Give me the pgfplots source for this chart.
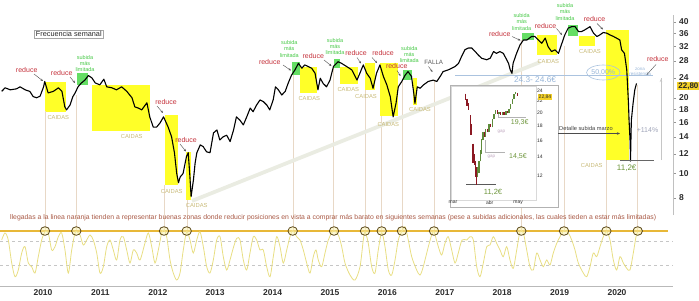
\documentclass[border=0pt]{standalone}
\usepackage{pgfplots}
\pgfplotsset{compat=1.18}
\usepackage{graphicx}
\usepackage{fontspec}
\setmainfont{Liberation Sans}
\usetikzlibrary{arrows.meta,shapes.geometric}
\definecolor{redlab}{RGB}{196,48,58}
\definecolor{greenlab}{RGB}{70,200,70}
\definecolor{caid}{RGB}{200,186,120}
\definecolor{ybox}{RGB}{255,255,40}
\definecolor{gbox}{RGB}{100,222,100}
\definecolor{vline}{RGB}{232,216,198}
\definecolor{osc}{RGB}{232,222,130}
\definecolor{orng}{RGB}{232,184,56}
\definecolor{circ}{RGB}{90,72,25}
\definecolor{circfill}{RGB}{250,240,170}
\definecolor{txtbrown}{RGB}{168,88,68}
\definecolor{lblue}{RGB}{150,180,215}
\definecolor{band}{RGB}{234,236,226}
\definecolor{olivegreen}{RGB}{110,150,60}
\definecolor{candred}{RGB}{140,25,35}
\definecolor{candgreen}{RGB}{95,140,60}
\definecolor{labyellow}{RGB}{245,210,40}
\definecolor{axgray}{RGB}{150,150,150}
\definecolor{ticktxt}{RGB}{45,45,45}
\definecolor{pctgray}{RGB}{160,165,185}
\newcommand{\bx}[5]{\addplot[fill=#5,draw=none,forget plot] coordinates {(#1,#3)(#2,#3)(#2,#4)(#1,#4)};}
\newcommand{\vl}[2]{\addplot[vline,line width=0.7pt,forget plot] coordinates {(#1,#2)(#1,5.92)};}
\newcommand{\cand}[4]{\addplot[#4,line width=1.5pt,forget plot] coordinates {(#1,#2)(#1,#3)};}
\tikzset{
 rd/.style={text=redlab,font=\fontsize{7}{7}\selectfont,inner sep=0pt},
 sb/.style={text=greenlab,font=\fontsize{5.5}{6.2}\selectfont,align=center,inner sep=0pt},
 cd/.style={text=caid,font=\fontsize{5.8}{6}\selectfont,inner sep=0pt},
 ar/.style={draw=black!70,line width=0.4pt,-{Stealth[length=2.5pt,width=2pt]}}
}
\begin{document}
\begin{tikzpicture}
\path[use as bounding box] (0pt,0pt) rectangle (699pt,-300pt);
% ---------------- main price panel
\begin{axis}[
  at={(0pt,-215pt)}, anchor=south west, scale only axis,
  width=673pt, height=200pt,
  xmin=2009.2509, xmax=2020.9756,
  ymode=log, ymin=6.85, ymax=42.6,
  axis x line=none,
  axis y line*=right,
  y axis line style={draw=axgray!60, line width=0.4pt},
  ytick={8,10,12,14,16,18,20,24,28,32,36,40},
  yticklabels={8,10,12,14,16,18,20,24,28,32,36,40},
  tick align=outside, major tick length=2.5pt,
  tick style={draw=axgray},
  yticklabel style={font=\fontsize{8.5}{9}\selectfont\bfseries, text=ticktxt},
  clip=false,
]
\bx{2010.035}{2010.395}{23.0}{17.6}{ybox}
\bx{2010.598}{2010.789}{25.0}{22.5}{gbox}
\bx{2010.848}{2011.864}{22.5}{14.8}{ybox}
\bx{2012.125}{2012.352}{17.1}{9.0}{ybox}
\bx{2012.491}{2012.578}{12.2}{7.86}{ybox}
\bx{2014.333}{2014.477}{27.8}{24.6}{gbox}
\bx{2014.477}{2014.782}{26.6}{20.9}{ybox}
\bx{2015.070}{2015.174}{28.5}{26.2}{gbox}
\bx{2015.174}{2015.488}{26.6}{22.7}{ybox}
\bx{2015.610}{2015.784}{27.4}{21.4}{ybox}
\bx{2015.871}{2016.185}{27.4}{16.9}{ybox}
\bx{2016.272}{2016.429}{25.8}{23.5}{gbox}
\bx{2016.441}{2016.521}{23.9}{18.7}{ybox}
\bx{2018.350}{2018.554}{36.1}{33.9}{gbox}
\bx{2018.611}{2018.949}{35.5}{29.6}{ybox}
\bx{2019.152}{2019.326}{38.9}{35.2}{gbox}
\bx{2019.343}{2019.617}{35.2}{32.1}{ybox}
\bx{2019.815}{2020.205}{37.2}{11.3}{ybox}
\vl{2010.044}{17.7}
\vl{2010.580}{20.5}
\vl{2012.113}{9.0}
\vl{2012.517}{7.86}
\vl{2014.361}{24.6}
\vl{2015.061}{26.2}
\vl{2015.610}{21.5}
\vl{2015.901}{16.9}
\vl{2016.254}{23.5}
\vl{2016.821}{23.5}
\vl{2018.333}{33.9}
\vl{2019.091}{32.1}
\vl{2019.814}{11.3}
\vl{2020.354}{22.5}
\addplot[band, line width=3.8pt, forget plot] coordinates {(2012.596,7.79)(2018.659,27.7)};
\addplot[lblue!80, line width=0.6pt, forget plot] coordinates {(2017.178,24.45)(2020.62,24.45)};
\addplot[black, line width=1.1pt, line join=round] table {
2009.28 21.2
2009.34 21.9
2009.43 21.5
2009.54 21.7
2009.60 22.1
2009.69 21.5
2009.77 21.2
2009.83 20.2
2009.89 20.0
2009.95 20.3
2010.01 22.1
2010.03 23.2
2010.09 20.9
2010.18 21.2
2010.27 21.9
2010.33 21.2
2010.38 18.4
2010.41 17.9
2010.47 18.7
2010.52 20.2
2010.56 20.9
2010.61 22.1
2010.67 22.9
2010.73 23.5
2010.79 24.5
2010.85 24.0
2010.91 22.9
2010.99 22.5
2011.06 23.7
2011.11 22.1
2011.20 21.9
2011.28 21.5
2011.37 22.1
2011.46 21.2
2011.55 20.0
2011.60 18.4
2011.66 18.2
2011.72 17.9
2011.81 19.1
2011.86 16.8
2011.92 15.3
2011.98 15.3
2012.04 15.9
2012.10 16.8
2012.18 15.3
2012.24 14.0
2012.29 12.1
2012.33 10.0
2012.36 9.2
2012.39 9.7
2012.44 10.0
2012.50 11.7
2012.53 12.1
2012.56 9.7
2012.58 8.1
2012.62 9.4
2012.65 11.0
2012.68 12.1
2012.74 13.0
2012.79 12.8
2012.85 12.2
2012.91 12.1
2012.97 14.5
2013.03 14.9
2013.08 13.6
2013.14 14.0
2013.20 14.2
2013.26 13.4
2013.32 14.9
2013.37 16.8
2013.43 16.3
2013.49 15.6
2013.55 16.8
2013.61 18.2
2013.66 17.6
2013.72 18.7
2013.78 19.6
2013.84 19.3
2013.90 18.7
2013.95 17.9
2014.01 19.6
2014.05 22.1
2014.10 21.5
2014.16 20.5
2014.22 21.2
2014.27 22.8
2014.33 24.6
2014.39 25.8
2014.45 27.4
2014.51 26.2
2014.56 27.0
2014.62 26.6
2014.68 26.2
2014.74 25.0
2014.79 21.5
2014.83 23.9
2014.88 22.8
2014.94 22.1
2015.00 23.5
2015.06 26.6
2015.14 27.8
2015.20 27.4
2015.29 26.6
2015.38 25.8
2015.47 23.5
2015.52 25.0
2015.58 27.0
2015.64 25.0
2015.70 23.9
2015.75 21.8
2015.81 25.0
2015.87 27.0
2015.93 24.3
2015.99 22.5
2016.05 20.2
2016.10 16.8
2016.15 19.0
2016.19 22.1
2016.25 23.2
2016.31 24.6
2016.36 25.4
2016.42 24.3
2016.46 20.8
2016.48 19.0
2016.52 22.1
2016.57 21.8
2016.63 22.5
2016.71 23.2
2016.80 23.5
2016.86 23.2
2016.92 24.3
2016.97 25.4
2017.06 25.8
2017.12 26.2
2017.18 26.6
2017.24 27.4
2017.29 29.1
2017.35 31.0
2017.41 31.5
2017.47 31.5
2017.53 30.5
2017.58 29.6
2017.64 28.7
2017.73 28.3
2017.79 28.7
2017.85 30.5
2017.90 30.0
2017.96 30.5
2018.02 30.0
2018.11 27.4
2018.14 25.8
2018.17 25.0
2018.19 27.4
2018.25 30.0
2018.31 32.4
2018.37 33.9
2018.43 33.9
2018.51 35.0
2018.57 35.0
2018.63 33.9
2018.69 32.9
2018.75 34.5
2018.80 31.9
2018.86 30.5
2018.92 31.0
2018.98 30.0
2019.04 32.9
2019.09 35.5
2019.15 37.8
2019.21 38.3
2019.27 38.3
2019.33 36.6
2019.38 36.6
2019.44 37.2
2019.53 38.3
2019.59 36.1
2019.65 35.0
2019.70 35.5
2019.76 36.3
2019.82 36.1
2019.88 35.5
2019.94 35.0
2019.99 34.5
2020.05 33.9
2020.08 31.0
2020.13 30.0
2020.17 25.8
2020.20 19.0
2020.21 16.3
2020.23 13.2
2020.235 11.2
2020.25 16.3
2020.28 19.0
2020.31 21.5
2020.34 22.8
};
\addplot[black!60, line width=1.4pt, forget plot] coordinates {(2020.052,11.25)(2020.650,11.25)};
\addplot[gray!45, line width=0.5pt, forget plot] coordinates {(2020.767,11.3)(2020.767,24.0)};
\end{axis}
% ---------------- oscillator panel
\begin{axis}[
  at={(0pt,-286pt)}, anchor=south west, scale only axis,
  width=673pt, height=64pt,
  xmin=2009.2509, xmax=2020.9756, ymin=0, ymax=116.36,
  axis y line=none, axis x line*=bottom,
  x axis line style={draw=gray!55, line width=0.6pt},
  xtick={2010,2011,2012,2013,2014,2015,2016,2017,2018,2019,2020},
  xticklabels={2010,2011,2012,2013,2014,2015,2016,2017,2018,2019,2020},
  major tick length=0pt,
  xticklabel style={font=\fontsize{8.5}{9}\selectfont\bfseries, text=ticktxt},
  clip=false,
]
\addplot[gray!45, dashed, line width=0.5pt, forget plot] coordinates {(2009.2509,82)(2020.96,82)};
\addplot[gray!45, dashed, line width=0.5pt, forget plot] coordinates {(2009.2509,38)(2020.96,38)};
\addplot[orng, line width=1.2pt, forget plot] coordinates {(2009.2509,100)(2020.889,100)};
\addplot[osc, line width=0.8pt, smooth, tension=0.5] table {
2009.280 83.6
2009.338 96.4
2009.395 83.6
2009.455 41.8
2009.512 16.9
2009.570 29.1
2009.629 60.0
2009.686 71.5
2009.744 41.8
2009.803 35.1
2009.861 23.6
2009.918 53.3
2009.977 83.6
2010.035 98.7
2010.092 96.4
2010.152 65.5
2010.209 71.5
2010.267 89.6
2010.326 96.4
2010.383 65.5
2010.441 23.6
2010.500 65.5
2010.557 96.4
2010.587 98.7
2010.645 92.7
2010.702 74.5
2010.761 83.6
2010.819 92.7
2010.876 83.6
2010.936 60.0
2010.993 23.6
2011.051 35.1
2011.110 71.5
2011.167 83.6
2011.225 65.5
2011.284 47.3
2011.341 83.6
2011.399 89.6
2011.458 65.5
2011.516 41.8
2011.573 65.5
2011.632 60.0
2011.690 47.3
2011.777 78.2
2011.835 96.4
2011.894 71.5
2011.951 41.8
2012.009 65.5
2012.068 96.4
2012.108 101.8
2012.155 89.6
2012.213 47.3
2012.270 23.6
2012.329 10.9
2012.387 23.6
2012.444 65.5
2012.503 98.7
2012.561 83.6
2012.618 60.0
2012.678 83.6
2012.735 98.7
2012.793 71.5
2012.852 35.1
2012.909 23.6
2012.967 47.3
2013.026 83.6
2013.084 89.6
2013.141 53.3
2013.200 29.1
2013.258 47.3
2013.315 69.1
2013.375 86.7
2013.432 83.6
2013.490 47.3
2013.549 29.1
2013.606 60.0
2013.664 89.6
2013.723 83.6
2013.780 65.5
2013.838 65.5
2013.897 35.1
2013.955 16.9
2014.012 53.3
2014.071 89.6
2014.129 71.5
2014.186 41.8
2014.246 65.5
2014.303 89.6
2014.350 100.5
2014.420 89.6
2014.477 83.6
2014.535 65.5
2014.594 41.8
2014.652 23.6
2014.709 53.3
2014.756 65.5
2014.796 47.3
2014.855 35.1
2014.913 60.0
2014.970 83.6
2015.030 96.4
2015.070 100.5
2015.145 92.7
2015.204 71.5
2015.261 41.8
2015.348 20.0
2015.436 10.9
2015.523 35.1
2015.580 83.6
2015.610 98.7
2015.667 77.6
2015.726 35.1
2015.784 23.6
2015.841 65.5
2015.901 96.9
2015.958 71.5
2016.016 29.1
2016.075 20.0
2016.133 47.3
2016.190 83.6
2016.249 98.7
2016.307 107.8
2016.364 83.6
2016.423 53.3
2016.510 29.1
2016.568 20.0
2016.625 35.1
2016.713 71.5
2016.772 92.7
2016.812 98.7
2016.887 71.5
2016.946 56.4
2017.003 77.6
2017.061 89.6
2017.120 65.5
2017.178 41.8
2017.235 60.0
2017.300 83.6
2017.382 83.6
2017.439 89.6
2017.497 83.6
2017.556 35.1
2017.613 16.9
2017.671 41.8
2017.730 71.5
2017.787 74.5
2017.845 89.6
2017.904 77.6
2017.962 65.5
2018.019 53.3
2018.078 71.5
2018.136 47.3
2018.193 32.2
2018.253 65.5
2018.310 98.7
2018.368 96.4
2018.427 65.5
2018.484 35.1
2018.542 29.1
2018.601 60.0
2018.659 47.3
2018.716 35.1
2018.775 47.3
2018.833 38.2
2018.890 60.0
2018.950 77.6
2019.007 89.6
2019.077 100.5
2019.152 96.4
2019.211 83.6
2019.268 65.5
2019.326 41.8
2019.413 23.6
2019.472 16.9
2019.530 35.1
2019.587 60.0
2019.646 53.3
2019.704 71.5
2019.761 89.6
2019.821 98.7
2019.878 83.6
2019.936 47.3
2019.995 29.1
2020.052 53.3
2020.110 41.8
2020.169 32.2
2020.226 29.1
2020.284 60.0
2020.331 89.6
2020.361 98.7
};
\addplot[only marks, mark=*, mark size=4.3pt, mark options={xscale=1.1, draw=circ, fill=circfill, fill opacity=0.5, line width=0.8pt}] coordinates {
(2010.035,100)(2010.580,100)(2012.108,100)(2012.503,100)(2014.350,100)(2015.070,100)(2015.610,100)
(2015.901,100)(2016.254,100)(2016.812,100)(2018.333,100)(2019.077,100)(2019.814,100)(2020.361,100)};
\end{axis}
% ---------------- inset (detail of March rally)
\fill[white] (450.7pt,-85.5pt) rectangle (558pt,-207.5pt);
\draw[gray!60, line width=0.6pt] (450.7pt,-85.5pt) rectangle (558pt,-207.5pt);
\begin{axis}[
  at={(451pt,-200pt)}, anchor=south west, scale only axis,
  width=85pt, height=114pt,
  xmin=-1.3, xmax=53.5, ymode=log, ymin=9.89, ymax=24.85,
  axis line style={draw=gray!30, line width=0.4pt},
  xtick={0,23.7,42}, xticklabels={mar,abr,may},
  ytick={12,14,16,18,20,22,24}, yticklabels={12,14,16,18,20,22,24},
  yticklabel pos=right, major tick length=0pt,
  ticklabel style={font=\fontsize{5}{5}\selectfont, text=ticktxt, inner sep=1pt},
  clip=false,
]
\addplot[gray!70!black, line width=0.8pt, forget plot] coordinates {(8.6,11.2)(27.9,11.2)};
\addplot[gray!60, line width=0.6pt, forget plot] coordinates {(21.05,16.0)(21.05,14.5)(33.4,14.5)};
\addplot[gray!60, line width=0.6pt, forget plot] coordinates {(29.0,20.0)(29.0,19.3)(47.3,19.3)};
\cand{7.94}{23.35}{22.19}{candred}
\cand{9.02}{22.4}{21.2}{candred}
\cand{9.88}{21.6}{20.4}{candred}
\cand{11.16}{19.6}{18.1}{candred}
\cand{11.59}{18.3}{16.7}{candred}
\cand{12.9}{15.6}{13.3}{candred}
\cand{13.76}{14.3}{13.1}{candred}
\cand{14.4}{13.5}{11.9}{candred}
\cand{15.05}{12.7}{11.5}{candred}
\addplot[candred, line width=0.5pt, forget plot] coordinates {(15.05,11.2)(15.05,12.9)};
\cand{15.9}{11.9}{12.9}{candgreen}
\cand{16.76}{12.3}{13.6}{candgreen}
\cand{17.62}{13.5}{14.8}{candgreen}
\cand{18.48}{14.3}{16.2}{candgreen}
\cand{19.34}{16.0}{17.1}{candgreen}
\cand{20.2}{17.2}{16.4}{candred}
\cand{21.05}{16.5}{17.6}{candgreen}
\cand{22.1}{17.6}{17.1}{candred}
\cand{23.2}{17.1}{18.3}{candgreen}
\cand{24.3}{18.3}{17.8}{candred}
\cand{25.3}{17.8}{19.1}{candgreen}
\cand{26.4}{19.1}{19.8}{candgreen}
\cand{27.5}{19.8}{20.4}{candgreen}
\cand{28.6}{20.4}{19.8}{candred}
\cand{29.7}{19.8}{20.1}{candgreen}
\cand{30.7}{20.1}{19.6}{candred}
\cand{31.8}{19.6}{20.1}{candgreen}
\cand{32.9}{20.1}{19.7}{candred}
\cand{34.0}{19.7}{20.3}{candgreen}
\cand{35.0}{20.3}{20.0}{candred}
\cand{36.1}{20.0}{20.6}{candgreen}
\cand{37.2}{20.6}{21.5}{candgreen}
\cand{38.3}{21.5}{22.4}{candgreen}
\cand{39.4}{22.4}{23.35}{candgreen}
\cand{40.4}{23.35}{23.7}{candgreen}
\cand{41.5}{23.5}{22.84}{candred}
\end{axis}
\begin{scope}[x=1pt,y=1pt]
\node[text=olivegreen, font=\fontsize{7}{7}\selectfont] at (519.7,-122.7) {19,3€};
\node[text=olivegreen, font=\fontsize{7}{7}\selectfont] at (518,-157) {14,5€};
\node[text=olivegreen, font=\fontsize{7.5}{7.5}\selectfont] at (493,-192) {11,2€};
\node[text=gray!60!violet!50, font=\fontsize{4.5}{4.5}\selectfont] at (501.3,-131.3) {gap};
\node[text=gray!60!violet!50, font=\fontsize{4.5}{4.5}\selectfont] at (491.3,-157) {gap};
\node[fill=labyellow, text=black!85, font=\fontsize{5}{5}\selectfont, inner sep=0.8pt] at (545,-97) {22,84};
\node[draw=gray!70, line width=0.5pt, font=\fontsize{7.3}{8}\selectfont, inner xsep=2pt, inner ysep=1.5pt, text=black!85] at (68.8,-34) {Frecuencia semanal};
\node[fill=labyellow, font=\fontsize{8}{8}\selectfont\bfseries, text=black!85, inner xsep=1.2pt, inner ysep=1pt, anchor=west] at (677,-86) {22,80};
\node[anchor=west, inner sep=0pt, text=txtbrown] at (10,-217.5) {\resizebox{646pt}{!}{\fontsize{7}{8}\selectfont llegadas a la linea naranja tienden a representar buenas zonas donde reducir posiciones en vista a comprar más barato en siguientes semanas (pese a subidas adicionales, las cuales tieden a estar más limitadas)}};
\node[rd] at (26.7,-70) {reduce};
\node[rd] at (61.7,-73.3) {reduce};
\node[rd] at (166,-101.7) {reduce};
\node[rd] at (186,-140) {reduce};
\node[rd] at (269.7,-62.3) {reduce};
\node[rd] at (313.3,-56) {reduce};
\node[rd] at (356,-53.3) {reduce};
\node[rd] at (383,-52.7) {reduce};
\node[rd] at (396.7,-66) {reduce};
\node[rd] at (499.7,-34.3) {reduce};
\node[rd] at (545.5,-25.7) {reduce};
\node[rd] at (594.5,-19) {reduce};
\node[rd] at (657.8,-59) {reduce};
\draw[ar] (34,-74) -- (43,-81);
\draw[ar] (70,-77) -- (75,-83);
\draw[ar] (157,-106) -- (163,-113);
\draw[ar] (180,-144) -- (186,-151.5);
\draw[ar] (283,-65) -- (291,-70.5);
\draw[ar] (324,-60) -- (331.5,-66);
\draw[ar] (357,-57.5) -- (361,-63.5);
\draw[ar] (372,-57.5) -- (377,-63);
\draw[ar] (397,-70.5) -- (400.5,-76);
\draw[ar] (512,-36.5) -- (520.5,-40.5);
\draw[ar] (556.5,-28.5) -- (562,-35);
\draw[ar] (597,-23.5) -- (603,-29.5);
\draw[ar] (656,-64.5) -- (646.5,-75);
\node[text=gray!70!black, font=\fontsize{6.2}{6.2}\selectfont, inner sep=0pt] at (433.8,-62.7) {FALLA};
\draw[ar] (428.5,-66.5) -- (432.5,-72);
\node[sb] at (85,-63.5) {subida\\más\\limitada};
\node[sb] at (289.3,-49) {subida\\más\\limitada};
\node[sb] at (335,-46.7) {subida\\más\\limitada};
\node[sb] at (409.3,-54.5) {subida\\más\\limitada};
\node[sb] at (521.7,-22) {subida\\más\\limitada};
\node[sb] at (565,-12) {subida\\más\\limitada};
\node[cd] at (58.3,-117.7) {CAIDAS};
\node[cd] at (131.7,-136.7) {CAIDAS};
\node[cd] at (171.7,-191.7) {CAIDAS};
\node[cd] at (196.7,-205.7) {CAIDAS};
\node[cd] at (309.3,-99) {CAIDAS};
\node[cd] at (348.3,-89.3) {CAIDAS};
\node[cd] at (366,-96.7) {CAIDAS};
\node[cd] at (388.3,-125) {CAIDAS};
\node[cd] at (420,-110) {CAIDAS};
\node[cd] at (548.3,-61.7) {CAIDAS};
\node[cd] at (590,-51.7) {CAIDAS};
\node[cd] at (591.7,-165.7) {CAIDAS};
\node[text=lblue, font=\fontsize{8.3}{9}\selectfont] at (535,-79.5) {24.3- 24.6€};
\node[ellipse, draw=lblue!80, line width=0.6pt, text=lblue, font=\fontsize{7}{7}\selectfont, minimum width=30pt, minimum height=15pt, inner sep=0pt] at (603.3,-72.5) {50,00\%};
\node[text=lblue, font=\fontsize{4.5}{5}\selectfont, align=center, inner sep=0pt] at (640,-72) {zona\\resistencia};
\node[font=\fontsize{5.7}{6}\selectfont, text=black!75] at (586,-128.5) {Detalle subida marzo};
\draw[black!70, line width=0.5pt, -{Stealth[length=3pt,width=2.5pt]}] (558,-133.5) -- (620,-133.5);
\draw[gray!45, line width=0.5pt, -{Stealth[length=3pt,width=2.5pt]}] (661,-84) -- (661,-79);
\node[text=pctgray, font=\fontsize{7}{7}\selectfont] at (647.5,-130) {+114\%};
\node[text=olivegreen, font=\fontsize{8}{8}\selectfont] at (626.7,-168) {11,2€};
\end{scope}
\end{tikzpicture}
\end{document}
